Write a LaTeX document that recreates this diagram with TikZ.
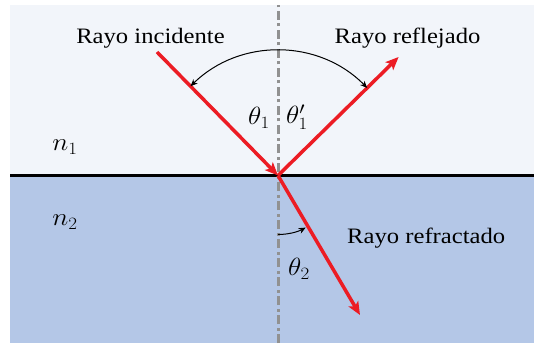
\documentclass[tikz,border=0pt]{standalone}
\usepackage{fontspec}
\setmainfont{Liberation Serif}[FakeStretch=1.12]
\usepackage{graphicx}
\usetikzlibrary{arrows.meta}
\definecolor{topbg}{RGB}{242,245,250}
\definecolor{botbg}{RGB}{180,199,231}
\definecolor{rayred}{RGB}{236,28,36}
\definecolor{normgray}{RGB}{145,145,145}
\newcommand\mth[1]{\scalebox{1.1}[1]{\fontsize{27}{31}\selectfont$#1$}}
\tikzset{
  ray/.style={draw=rayred, line width=3.5pt, -{Stealth[length=13pt,width=11pt,inset=3pt]}},
  normalline/.style={draw=normgray, line width=3pt, dash pattern=on 9pt off 3.5pt on 3pt off 3.5pt},
  angarc/.style={draw=black, line width=1pt},
  lbl/.style={font=\fontsize{22}{26}\selectfont, inner sep=0pt},
  mlbl/.style={inner sep=0pt}
}
\begin{document}
\begin{tikzpicture}[x=1pt,y=1pt]
\useasboundingbox (0,0) rectangle (534,343);
\fill[topbg] (10,167.5) rectangle (534,338);
\fill[botbg] (10,0) rectangle (534,167.5);
\coordinate (L) at (10,167.5);
\coordinate (R) at (534,167.5);
\coordinate (O) at (278,167.5);
\coordinate (NT) at (278,338);
\coordinate (NB) at (278,0);
\coordinate (S1) at (157,291);
\coordinate (E1) at (398.6,286);
\coordinate (E2) at (360,28);
\draw[normalline] (NB) -- (NT);
\draw[line width=2.5pt] (L) -- (R);
\draw[ray] (S1) -- (O);
\draw[ray] (O) -- (E1);
\draw[ray] (O) -- (E2);
\draw[angarc, {Stealth[length=7pt,width=6pt]}-{Stealth[length=7pt,width=6pt]}] ([shift={(44.5:125)}]O) arc[start angle=44.5, end angle=134.4, radius=125];
\draw[angarc, -{Stealth[length=7pt,width=6pt]}] ([shift={(-90:59)}]O) arc[start angle=-90, end angle=-62, radius=59];
\node[lbl, anchor=base] (ti) at (150.5,299) {Rayo incidente};
\node[lbl, anchor=base] (tr) at (407.5,299) {Rayo reflejado};
\node[lbl, anchor=base west] (tf) at (347,100) {Rayo refractado};
\node[mlbl] (t1) at (259,225.5) {\mth{\theta_1}};
\node[mlbl] (t1p) at (297,225.5) {\mth{\theta_1^{\prime}}};
\node[mlbl] (t2) at (299,74) {\mth{\theta_2}};
\node[mlbl] (n1) at (65,196) {\mth{n_1}};
\node[mlbl] (n2) at (65,121) {\mth{n_2}};
\end{tikzpicture}
\end{document}
